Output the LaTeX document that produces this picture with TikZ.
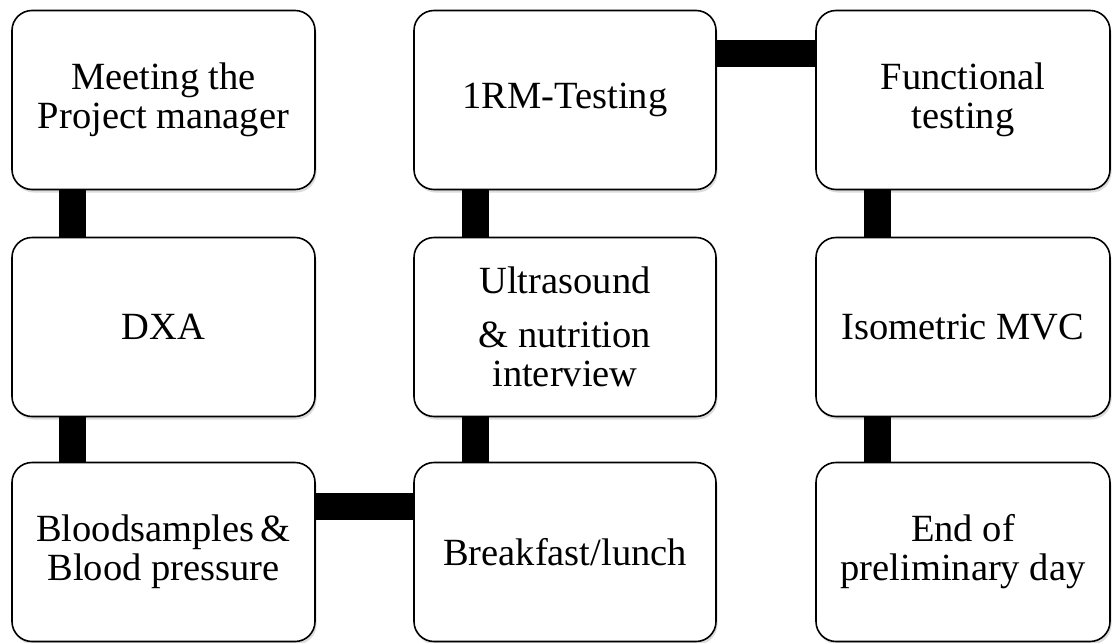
\documentclass[tikz,border=0pt]{standalone}
\usepackage{fontspec}
\setmainfont{Liberation Serif}
\usetikzlibrary{shadows}
\tikzset{
  stepbox/.style={draw=black, line width=1.6pt, fill=white, rounded corners=20pt,
    minimum height=179pt, align=center, inner sep=0pt,
    font=\fontsize{38.5}{39}\selectfont,
    drop shadow={opacity=0.28, shadow xshift=1.5pt, shadow yshift=-3pt}},
  conn/.style={line width=27pt, draw=black}
}
\begin{document}
\begin{tikzpicture}[x=1pt, y=-1pt]
\useasboundingbox (0,0) rectangle (1112,643);
% connectors (behind)
\coordinate (c1) at (73.5,0);
\node[stepbox, minimum width=303pt] (a1) at (163.5,100) {Meeting the\\Project manager};
\node[stepbox, minimum width=303pt] (a2) at (163.5,327) {DXA};
\node[stepbox, minimum width=303pt] (a3) at (163.5,552) {Bloodsamples\,\&\\Blood pressure};
\node[stepbox, minimum width=302pt] (b1) at (565,100) {1RM-Testing};
\node[stepbox, minimum width=302pt] (b2) at (565,327) {Ultrasound\\[15pt]\&~nutrition\\interview};
\node[stepbox, minimum width=302pt] (b3) at (565,552) {Breakfast/lunch};
\node[stepbox, minimum width=294pt] (d1) at (963,100) {Functional\\testing};
\node[stepbox, minimum width=294pt] (d2) at (963,327) {Isometric MVC};
\node[stepbox, minimum width=294pt] (d3) at (963,552) {End of\\preliminary day};
\draw[conn] ([xshift=61.5pt]a1.south west) -- ([xshift=61.5pt]a2.north west);
\draw[conn] ([xshift=61.5pt]a2.south west) -- ([xshift=61.5pt]a3.north west);
\draw[conn] ([yshift=-45pt]a3.north east) -- ([yshift=-45pt]b3.north west);
\draw[conn] ([xshift=62.5pt]b3.north west) -- ([xshift=62.5pt]b2.south west);
\draw[conn] ([xshift=62.5pt]b2.north west) -- ([xshift=62.5pt]b1.south west);
\draw[conn] ([yshift=-44pt]b1.north east) -- ([yshift=-44pt]d1.north west);
\draw[conn] ([xshift=62pt]d1.south west) -- ([xshift=62pt]d2.north west);
\draw[conn] ([xshift=62pt]d2.south west) -- ([xshift=62pt]d3.north west);
\end{tikzpicture}
\end{document}
